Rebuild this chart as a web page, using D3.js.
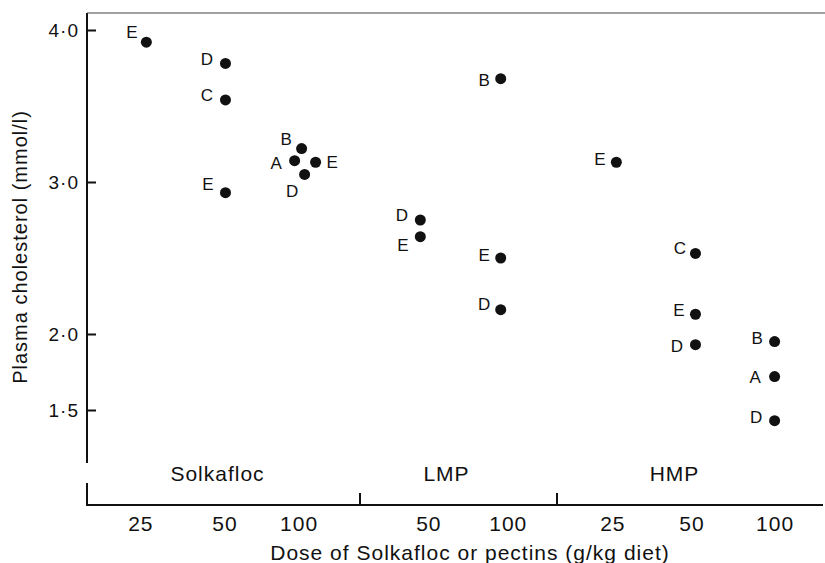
<!DOCTYPE html>
<html>
<head>
<meta charset="utf-8">
<script src="https://cdn.jsdelivr.net/npm/d3@7"></script>
<style>
  body { margin: 0; background: #fff; }
  svg text { font-family: "Liberation Sans", Arial, sans-serif; fill: #111; letter-spacing: 1px; }
</style>
</head>
<body>
<svg id="chart" width="825" height="563"></svg>
<script>
// fibre groups and the doses given in each (g/kg diet)
const groupNames = ['Solkafloc', 'LMP', 'HMP'];
const groupDoses = [[25, 50, 100], [50, 100], [25, 50, 100]];

// one entry per plotted point
const ptGroup  = [0, 0, 0, 0, 0, 0, 0, 0, 1, 1, 1, 1, 1, 2, 2, 2, 2, 2, 2, 2];
const ptDose   = [25, 50, 50, 50, 100, 100, 100, 100, 50, 50, 100, 100, 100, 25, 50, 50, 50, 100, 100, 100];
const ptLetter = ['E', 'D', 'C', 'E', 'B', 'A', 'E', 'D', 'D', 'E', 'B', 'E', 'D', 'E', 'C', 'E', 'D', 'B', 'A', 'D'];
const ptValue  = [3.92, 3.78, 3.54, 2.93, 3.22, 3.14, 3.13, 3.05, 2.75, 2.64, 3.68, 2.50, 2.16, 3.13, 2.53, 2.13, 1.93, 1.95, 1.72, 1.43];

const yTicks = [1.5, 2.0, 3.0, 4.0];

// layout: label placement around each dot, and side-by-side spread in the crowded cluster
const labelOffset = [
  [-14, -10], [-18, -5], [-18, -5], [-17, -9], [-15, -10], [-18, 2], [17, 0], [-12, 16],
  [-18, -5], [-17, 8], [-16, 1], [-16, -3], [-16, -6], [-16, -3], [-15, -6], [-16, -4],
  [-18, 1], [-17, -4], [-19, 0], [-18, -4]
];
const dotSpread = [0, 0, 0, 0, -3, -10, 11, 0, 0, 0, 0, 0, 0, 0, 0, 0, 0, 0, 0, 0];
// hand-set nudges of the dose labels, as in the printed figure
const tickNudge = [[-6, -1, -6], [8, 7], [-4, -4, 0]];

const svg = d3.select('#chart');

let x_left = 87;
let x_axisY = 505;
let y_top = 13;
let groupEdges = [87, 360, 557, 830];
let groupLabelShift = [-6, -12, -19];

// each group gets its own log scale for dose
let xScales = groupDoses.map(function(d, i) {
  let lo = d[0] * Math.pow(2, -0.75);
  let hi = d[d.length - 1] * Math.pow(2, 0.7);
  return d3.scaleLog().base(2).domain([lo, hi]).range([groupEdges[i], groupEdges[i + 1]]);
});

const yScale = d3.scaleLinear().domain([1.5, 4.0]).range([410, 30]);

// y axis ticks point inward
let y_axis = d3.axisLeft(yScale)
  .tickValues(yTicks)
  .tickSizeInner(-9)
  .tickSizeOuter(0)
  .tickPadding(8)
  .tickFormat(function(d) { return d3.format('.1f')(d).replace('.', '\u00b7'); });

let yg = svg.append('g')
  .attr('transform', 'translate(' + x_left + ',0)')
  .call(y_axis);
yg.select('.domain').remove();
yg.selectAll('.tick line').attr('stroke', '#111').attr('stroke-width', 2);
yg.selectAll('.tick text').style('font-size', '19px').attr('fill', '#111');

// broken y axis line
svg.append('line')
  .attr('x1', x_left).attr('x2', x_left)
  .attr('y1', y_top).attr('y2', 463)
  .attr('stroke', '#111').attr('stroke-width', 2);
svg.append('line')
  .attr('x1', x_left).attr('x2', x_left)
  .attr('y1', 483).attr('y2', x_axisY + 1)
  .attr('stroke', '#111').attr('stroke-width', 2);

// top frame
svg.append('line')
  .attr('x1', x_left).attr('x2', 825)
  .attr('y1', y_top).attr('y2', y_top)
  .attr('stroke', '#444').attr('stroke-width', 1.2);

// x axis line
svg.append('line')
  .attr('x1', x_left - 1).attr('x2', 823)
  .attr('y1', x_axisY).attr('y2', x_axisY)
  .attr('stroke', '#111').attr('stroke-width', 2);

// group separators
svg.selectAll('.sep')
  .data(groupEdges.slice(1, 3))
  .enter()
  .append('line')
  .attr('class', 'sep')
  .attr('x1', function(d) { return d; }).attr('x2', function(d) { return d; })
  .attr('y1', x_axisY - 12).attr('y2', x_axisY)
  .attr('stroke', '#111').attr('stroke-width', 2);

// dose tick labels per group
groupDoses.forEach(function(d, i) {
  let x_axis = d3.axisBottom(xScales[i])
    .tickValues(d)
    .tickSize(0)
    .tickPadding(11)
    .tickFormat(d3.format('d'));
  let g = svg.append('g')
    .attr('transform', 'translate(0,' + x_axisY + ')')
    .call(x_axis);
  g.select('.domain').remove();
  g.selectAll('.tick text')
    .style('font-size', '21px')
    .attr('fill', '#111')
    .attr('dx', function(t, j) { return tickNudge[i][j]; });
});

// group names
svg.selectAll('.group-label')
  .data(groupNames)
  .enter()
  .append('text')
  .attr('class', 'group-label')
  .attr('x', function(d, i) { return (groupEdges[i] + groupEdges[i + 1]) / 2 + groupLabelShift[i]; })
  .attr('y', 481)
  .attr('text-anchor', 'middle')
  .style('font-size', '21px')
  .text(function(d) { return d; });

// points
let pts = ptValue.map(function(v, i) {
  return {
    x: xScales[ptGroup[i]](ptDose[i]) + dotSpread[i],
    y: yScale(v),
    letter: ptLetter[i],
    off: labelOffset[i]
  };
});

svg.selectAll('.dot')
  .data(pts)
  .enter()
  .append('circle')
  .attr('class', 'dot')
  .attr('cx', function(d) { return d.x; })
  .attr('cy', function(d) { return d.y; })
  .attr('r', 5.5)
  .attr('fill', '#111');

svg.selectAll('.pt-label')
  .data(pts)
  .enter()
  .append('text')
  .attr('class', 'pt-label')
  .attr('x', function(d) { return d.x + d.off[0]; })
  .attr('y', function(d) { return d.y + d.off[1]; })
  .attr('dy', '0.36em')
  .attr('text-anchor', 'middle')
  .style('font-size', '17px')
  .text(function(d) { return d.letter; });

// axis titles
svg.append('text')
  .attr('transform', 'translate(27,247) rotate(-90)')
  .attr('text-anchor', 'middle')
  .style('font-size', '20px')
  .text('Plasma cholesterol (mmol/l)');

svg.append('text')
  .attr('x', 470)
  .attr('y', 560)
  .attr('text-anchor', 'middle')
  .style('font-size', '21px')
  .text('Dose of Solkafloc or pectins (g/kg diet)');
</script>
</body>
</html>
